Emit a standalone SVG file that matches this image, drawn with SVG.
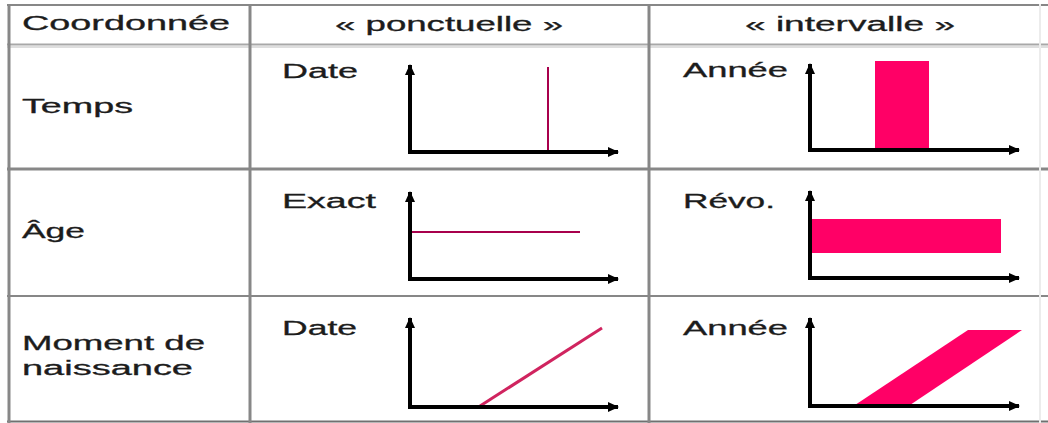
<svg xmlns="http://www.w3.org/2000/svg" width="1048" height="423" viewBox="0 0 1048 423">
<style>
text{font-family:"Liberation Sans",Arial,sans-serif;font-size:20px;fill:#1c1c1c;stroke:#1c1c1c;stroke-width:0.3}
.grid{stroke:#878787;fill:none}
.axis{stroke:#000;stroke-width:4;fill:none}
.ln{stroke:#a8004c;stroke-width:2;fill:none}
.diag{stroke:#d0245f;stroke-width:3;fill:none}
.fill{fill:#ff0066}
</style>
<defs>
<marker id="ah" markerUnits="userSpaceOnUse" markerWidth="12" markerHeight="10" refX="10" refY="5" orient="auto">
<path d="M0,0 L11,5 L0,10 Z" fill="#000"/>
</marker>
</defs>
<rect width="1048" height="423" fill="#fff"/>
<g id="grid">
<line class="grid" x1="7" y1="5" x2="1048" y2="5" stroke-width="2"/>
<line x1="7" y1="44.5" x2="1048" y2="44.5" stroke="#a8a8a8" stroke-width="2"/>
<line x1="7" y1="47" x2="1048" y2="47" stroke="#dedede" stroke-width="2"/>
<line class="grid" x1="7" y1="169" x2="1048" y2="169" stroke-width="3"/>
<line class="grid" x1="7" y1="296" x2="1048" y2="296" stroke-width="2"/>
<line x1="7" y1="421.5" x2="1048" y2="421.5" stroke="#707070" stroke-width="2"/>
<line class="grid" x1="9" y1="4" x2="9" y2="423" stroke-width="3"/>
<line class="grid" x1="250" y1="4" x2="250" y2="423" stroke-width="3"/>
<line class="grid" x1="649" y1="4" x2="649" y2="423" stroke-width="3"/>
<line x1="1040" y1="4" x2="1040" y2="423" stroke="#ececec" stroke-width="2"/>
</g>
<g id="header">
<text x="22" y="30" textLength="208" lengthAdjust="spacingAndGlyphs">Coordonnée</text>
<text x="335" y="31" textLength="228" lengthAdjust="spacingAndGlyphs">« ponctuelle »</text>
<text x="745" y="31" textLength="210" lengthAdjust="spacingAndGlyphs">« intervalle »</text>
</g>
<g id="row-temps">
<text x="22" y="113" textLength="111" lengthAdjust="spacingAndGlyphs">Temps</text>
<g id="temps-ponctuelle">
<text x="282" y="78" textLength="76" lengthAdjust="spacingAndGlyphs">Date</text>
<line class="ln" x1="548" y1="67" x2="548" y2="151"/>
</g>
<g id="temps-intervalle">
<text x="683" y="77" textLength="105" lengthAdjust="spacingAndGlyphs">Année</text>
<rect class="fill" x="875" y="61" width="54" height="89"/>
</g>
</g>
<g id="row-age">
<text x="22" y="238" textLength="63" lengthAdjust="spacingAndGlyphs">Âge</text>
<g id="age-ponctuelle">
<text x="282" y="208" textLength="94" lengthAdjust="spacingAndGlyphs">Exact</text>
<line class="ln" x1="410" y1="232" x2="580" y2="232"/>
</g>
<g id="age-intervalle">
<text x="683" y="208" textLength="92" lengthAdjust="spacingAndGlyphs">Révo.</text>
<rect class="fill" x="810" y="219" width="191" height="34"/>
</g>
</g>
<g id="row-naissance">
<text x="22" y="350" textLength="183" lengthAdjust="spacingAndGlyphs">Moment de</text>
<text x="22" y="375" textLength="171" lengthAdjust="spacingAndGlyphs">naissance</text>
<g id="naissance-ponctuelle">
<text x="282" y="335" textLength="75" lengthAdjust="spacingAndGlyphs">Date</text>
<line class="diag" x1="480" y1="406" x2="602" y2="328"/>
</g>
<g id="naissance-intervalle">
<text x="683" y="335" textLength="105" lengthAdjust="spacingAndGlyphs">Année</text>
<polygon class="fill" points="852,407 907,407 1022,330 968,330"/>
</g>
</g>
<g id="connectors">
<path class="axis" d="M410,152 L410,65" marker-end="url(#ah)"/>
<path class="axis" d="M408,152 L618,152" marker-end="url(#ah)"/>
<path class="axis" d="M810,150 L810,64" marker-end="url(#ah)"/>
<path class="axis" d="M808,150 L1019,150" marker-end="url(#ah)"/>
<path class="axis" d="M410,279 L410,192" marker-end="url(#ah)"/>
<path class="axis" d="M408,279 L618,279" marker-end="url(#ah)"/>
<path class="axis" d="M810,278 L810,191" marker-end="url(#ah)"/>
<path class="axis" d="M808,278 L1019,278" marker-end="url(#ah)"/>
<path class="axis" d="M410,407 L410,318" marker-end="url(#ah)"/>
<path class="axis" d="M408,407 L618,407" marker-end="url(#ah)"/>
<path class="axis" d="M810,406 L810,318" marker-end="url(#ah)"/>
<path class="axis" d="M808,406 L1019,406" marker-end="url(#ah)"/>
</g>
</svg>
